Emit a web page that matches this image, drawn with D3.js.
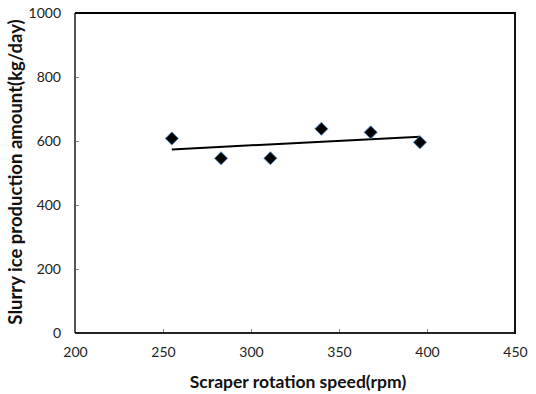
<!DOCTYPE html>
<html>
<head>
<meta charset="utf-8">
<script src="https://cdn.jsdelivr.net/npm/d3@7"></script>
<style>
  body { margin: 0; background: #fff; }
  svg { display: block; font-family: Lato, "Open Sans", sans-serif; }
</style>
</head>
<body>
<svg width="536" height="394"></svg>
<script>
// data
const speed = [255, 283, 311, 340, 368, 396];
const amount = [608, 546, 546, 638, 627, 596];
const xTicks = [200, 250, 300, 350, 400, 450];
const yTicks = [0, 200, 400, 600, 800, 1000];

const svg = d3.select("svg");
const plotL = 75, plotR = 515, plotT = 13, plotB = 333;

const x = d3.scaleLinear().domain([200, 450]).range([plotL, plotR]);
const y = d3.scaleLinear().domain([0, 1000]).range([plotB, plotT]);

// axes with small inside ticks
const xAxis = svg.append("g")
    .attr("transform", `translate(0,${plotB})`)
    .call(d3.axisBottom(x).tickValues(xTicks).tickFormat(d3.format("d"))
        .tickSizeInner(-4).tickSizeOuter(0).tickPadding(14));
const yAxis = svg.append("g")
    .attr("transform", `translate(${plotL},0)`)
    .call(d3.axisLeft(y).tickValues(yTicks).tickFormat(d3.format("d"))
        .tickSizeInner(-4).tickSizeOuter(0).tickPadding(14));

[xAxis, yAxis].forEach(g => {
    g.select(".domain").remove();
    g.selectAll(".tick line").attr("stroke", "#888");
    g.selectAll(".tick text")
        .attr("font-family", "Lato, sans-serif")
        .attr("font-size", 14)
        .attr("fill", "#222");
});

// plot frame
svg.append("line").attr("x1", plotL).attr("x2", plotL).attr("y1", plotT).attr("y2", plotB)
    .attr("stroke", "#555").attr("stroke-width", 2);
svg.append("line").attr("x1", plotL).attr("x2", plotR).attr("y1", plotB).attr("y2", plotB)
    .attr("stroke", "#222").attr("stroke-width", 2);
svg.append("line").attr("x1", plotL).attr("x2", plotR + 1).attr("y1", plotT).attr("y2", plotT)
    .attr("stroke", "#000").attr("stroke-width", 2);
svg.append("line").attr("x1", plotR).attr("x2", plotR).attr("y1", plotT).attr("y2", plotB + 1)
    .attr("stroke", "#111").attr("stroke-width", 2);

// least squares trend line
const mx = d3.mean(speed), my = d3.mean(amount);
const slope = d3.sum(speed, (s, i) => (s - mx) * (amount[i] - my)) / d3.sum(speed, s => (s - mx) ** 2);
const fit = s => my + slope * (s - mx);
const ends = [d3.min(speed), d3.max(speed)];
svg.append("path")
    .attr("d", d3.line().x(d => x(d)).y(d => y(fit(d)))(ends))
    .attr("fill", "none")
    .attr("stroke", "#000")
    .attr("stroke-width", 2);

// diamond markers
const pts = speed.map((s, i) => ({ s, a: amount[i] }));
const r = 6.5;
svg.selectAll(".pt")
    .data(pts)
    .join("path")
    .attr("class", "pt")
    .attr("d", d => {
        const cx = x(d.s), cy = y(d.a);
        return `M${cx},${cy - r}L${cx + r},${cy}L${cx},${cy + r}L${cx - r},${cy}Z`;
    })
    .attr("fill", "#000")
    .attr("stroke", "#4f81bd")
    .attr("stroke-width", 1);

// axis titles
svg.append("text")
    .attr("x", (plotL + plotR) / 2 + 3)
    .attr("y", 388)
    .attr("text-anchor", "middle")
    .attr("font-size", 17.5)
    .attr("font-weight", "bold")
    .attr("fill", "#111")
    .text("Scraper rotation speed(rpm)");
svg.append("text")
    .attr("transform", `translate(22,${(plotT + plotB) / 2 - 1}) rotate(-90)`)
    .attr("text-anchor", "middle")
    .attr("font-size", 18.5)
    .attr("font-weight", "bold")
    .attr("fill", "#111")
    .text("Slurry ice production amount(kg/day)");
</script>
</body>
</html>
